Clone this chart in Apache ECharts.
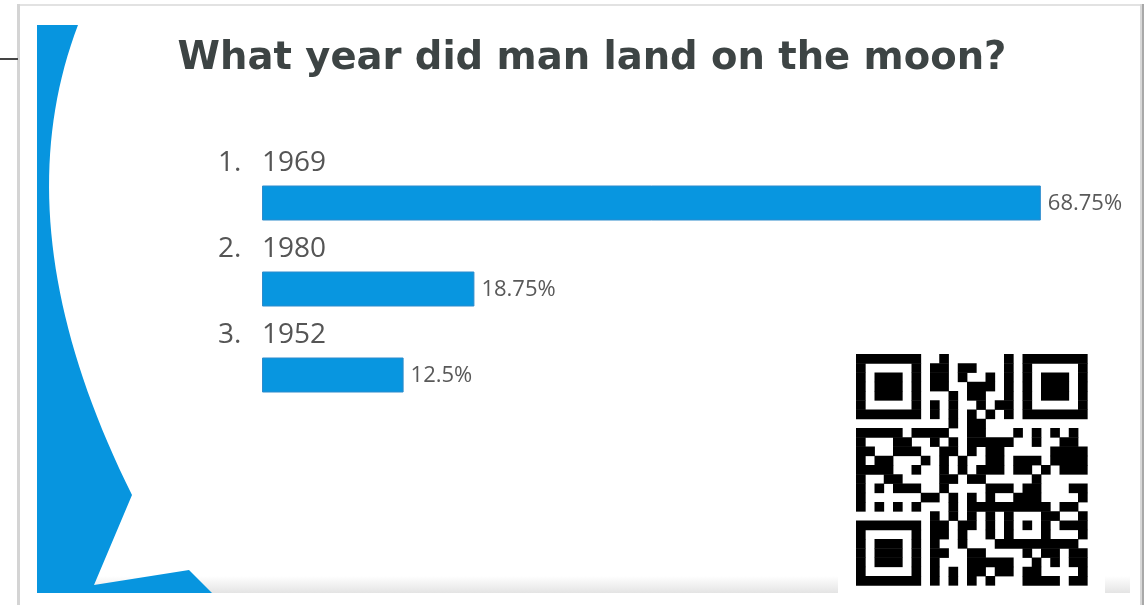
<!DOCTYPE html>
<html><head><meta charset="utf-8">
<script src="https://cdn.jsdelivr.net/npm/echarts@6/dist/echarts.min.js"></script>
<style>html,body{margin:0;padding:0;background:#fff}#c{width:1148px;height:605px}</style>
</head><body><div id="c"></div>
<script>
// ---- data ----
const titleText = 'What year did man land on the moon?';
const categories = ['1969', '1980', '1952'];
const percentages = [68.75, 18.75, 12.5];
const qrRows = [
'1111111001000000101111111',
'1000001011011000101000001',
'1011101011010010101011101',
'1011101011001110101011101',
'1011101000101100101011101',
'1000001010100101101000001',
'1111111010101010101111111',
'0000000000101100000000000',
'1111101111001100010101010',
'1000110010101111100100110',
'1100111001101011000001111',
'1011000101010011011101111',
'1111001001010111011010111',
'1001100001101100000100000',
'1010111001000011101100011',
'1000000110101010011100001',
'1010101000101111111110110',
'0000000010101010100011001',
'1111111011011010101010111',
'1000001011010010100010001',
'1011101010010001111111110',
'1011101011001100001011011',
'1011101010001111100101011',
'1000001010101101101100001',
'1111111010101010001111011'
];

// ---- decoration ----
const BLUE = '#0795df';
const graphics = [];
// slide frame
graphics.push({type:'rect', shape:{x:18,y:4,width:1126,height:2}, style:{fill:'#e2e2e2'}, silent:true});
graphics.push({type:'rect', shape:{x:17,y:4,width:3,height:601}, style:{fill:'#d4d4d4'}, silent:true});
graphics.push({type:'rect', shape:{x:1140,y:4,width:2,height:601}, style:{fill:'#d8d8d8'}, silent:true});
graphics.push({type:'rect', shape:{x:1142,y:4,width:2,height:601}, style:{fill:'#a9a9a9'}, silent:true});
graphics.push({type:'rect', shape:{x:0,y:58,width:18,height:2}, style:{fill:'#444'}, silent:true});
// bottom shadow band
graphics.push({type:'rect', shape:{x:37,y:576,width:1093,height:17},
  style:{fill:new echarts.graphic.LinearGradient(0,0,0,1,[{offset:0,color:'#ffffff'},{offset:1,color:'#e4e4e4'}])}, silent:true});
// blue left shape (curved edge sampled from a quadratic curve)
const shapePts = [[37,25]];
for (let k = 0; k <= 40; k++) {
  const t = k / 40, a = (1-t)*(1-t), b = 2*t*(1-t), d = t*t;
  shapePts.push([a*78 + b*0 + d*132, a*25 + b*230 + d*495]);
}
shapePts.push([94,585],[189,570],[212,593],[37,593]);
graphics.push({type:'polygon', shape:{points:shapePts}, style:{fill:BLUE}, silent:true});
// QR code
const qx = 856, qy = 354, qm = 9.25;
graphics.push({type:'rect', shape:{x:838,y:340,width:267,height:258}, style:{fill:'#fff'}, silent:true});
qrRows.forEach(function(row, r){
  let c = 0;
  while (c < row.length) {
    if (row[c] === '1') {
      let e = c; while (e < row.length && row[e] === '1') e++;
      graphics.push({type:'rect', shape:{x:qx + c*qm, y:qy + r*qm, width:(e-c)*qm + 0.4, height:qm + 0.4},
        style:{fill:'#000'}, silent:true});
      c = e;
    } else c++;
  }
});

const chart = echarts.init(document.getElementById('c'), null, {renderer:'canvas'});
chart.setOption({
  animation: false,
  backgroundColor: '#fff',
  title: {
    text: titleText, left: 592, top: 39, padding: 0, textAlign: 'center',
    textStyle: {fontFamily: 'DejaVu Sans', fontWeight: 'bold', fontSize: 38.5, color: '#3d4444'}
  },
  graphic: graphics,
  grid: {left: 262, top: 160, height: 258, width: 793},
  xAxis: {type: 'value', min: 0, max: 70, show: false},
  yAxis: {
    type: 'category', inverse: true, data: categories,
    axisLine: {show: false}, axisTick: {show: false}, splitLine: {show: false},
    axisLabel: {
      interval: 0, align: 'left', margin: 44, verticalAlign: 'middle',
      padding: [0, 0, 79, 0],
      formatter: function(v, i){ return '{n|' + (i + 1) + '.}{y|' + v + '}'; },
      rich: {
        n: {width: 44, fontFamily: 'Open Sans', fontSize: 28, color: '#555'},
        y: {fontFamily: 'Open Sans', fontSize: 28, color: '#555'}
      }
    }
  },
  series: [{
    type: 'bar', data: percentages, barWidth: 35,
    itemStyle: {color: '#0896e0', borderColor: '#2d8bcc', borderWidth: 1},
    label: {show: true, position: 'right', distance: 7, formatter: '{c}%', offset: [0, 1],
      fontFamily: 'Open Sans', fontSize: 22, color: '#595959'}
  }]
});
</script></body></html>
